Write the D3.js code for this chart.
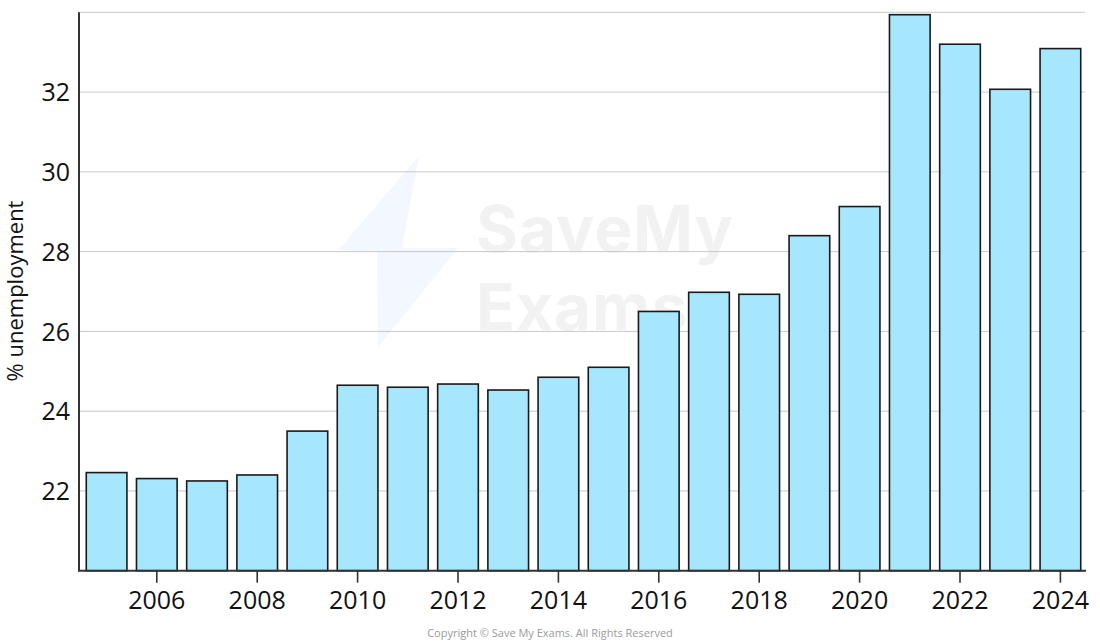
<!DOCTYPE html>
<html>
<head>
<meta charset="utf-8">
<script src="https://cdn.jsdelivr.net/npm/d3@7"></script>
<style>
  html, body { margin: 0; padding: 0; background: #fff; }
  svg { display: block; }
</style>
</head>
<body>
<svg id="chart" width="1100" height="642"></svg>
<script>
const years = [2005, 2006, 2007, 2008, 2009, 2010, 2011, 2012, 2013, 2014,
               2015, 2016, 2017, 2018, 2019, 2020, 2021, 2022, 2023, 2024];
const unemployment = [22.46, 22.31, 22.25, 22.40, 23.50, 24.65, 24.60, 24.68, 24.53, 24.85,
                      25.10, 26.50, 26.98, 26.93, 28.40, 29.13, 33.94, 33.20, 32.07, 33.09];
const yTicks = [22, 24, 26, 28, 30, 32];
const xTickYears = [2006, 2008, 2010, 2012, 2014, 2016, 2018, 2020, 2022, 2024];
const yTitle = "% unemployment";
const copyright = "Copyright \u00A9 Save My Exams. All Rights Reserved";

(function () {
const svg = d3.select("#chart");
const mLeft = 79, mRight = 1086, mTop = 12.3, mBottom = 570.7;
const font = "'Open Sans', sans-serif";

const x = d3.scaleBand().domain(years).range([81.5, 1085.5]).paddingInner(0.19).paddingOuter(0.095);
const y = d3.scaleLinear().domain([20, 34]).range([mBottom, mTop]);

// watermark
const wm = svg.append("g").attr("pointer-events", "none");
wm.append("path")
  .attr("d", "M419,156 L338,250 L377,252 L378,347 L458,248 L402,248 Z")
  .attr("fill", "#eef3ff").attr("opacity", 0.7);
wm.append("text").attr("x", 476).attr("y", 252).text("SaveMy")
  .attr("font-family", "Inter, 'Open Sans', sans-serif").attr("font-weight", 700)
  .attr("font-size", 64).attr("fill", "#f2f2f2").attr("letter-spacing", 1);
wm.append("text").attr("x", 476).attr("y", 330).text("Exams")
  .attr("font-family", "Inter, 'Open Sans', sans-serif").attr("font-weight", 700)
  .attr("font-size", 64).attr("fill", "#f2f2f2").attr("letter-spacing", 1);

// gridlines
svg.append("g").selectAll("line").data(yTicks.concat([34])).join("line")
  .attr("x1", mLeft).attr("x2", 1085)
  .attr("y1", d => y(d)).attr("y2", d => y(d))
  .attr("stroke", "#c8c8c8").attr("stroke-width", 1);

// bars
svg.append("g").selectAll("rect").data(years).join("rect")
  .attr("x", d => x(d))
  .attr("width", x.bandwidth())
  .attr("y", (d, i) => y(unemployment[i]))
  .attr("height", (d, i) => y(20) - y(unemployment[i]))
  .attr("fill", "#a6e7fe")
  .attr("stroke", "#1a1a1a")
  .attr("stroke-width", 1.6);

// y axis
const yAxis = d3.axisLeft(y).tickValues(yTicks).tickSize(0).tickPadding(9).tickFormat(d3.format("d"));
const gy = svg.append("g").attr("transform", `translate(${mLeft},0)`).call(yAxis);
gy.select(".domain").remove();
gy.selectAll("text").attr("font-family", font).attr("font-size", 25).attr("font-weight", 400)
  .attr("fill", "#111").attr("dy", "0.35em");
svg.append("line").attr("x1", mLeft).attr("x2", mLeft).attr("y1", mTop).attr("y2", mBottom + 0.5)
  .attr("stroke", "#333").attr("stroke-width", 2);

// x axis
const xAxis = d3.axisBottom(x).tickValues(xTickYears).tickSize(12).tickPadding(9).tickSizeOuter(0);
const gx = svg.append("g").attr("transform", `translate(0,${mBottom})`).call(xAxis);
gx.select(".domain").remove();
gx.selectAll(".tick line").attr("stroke", "#333").attr("stroke-width", 1.6);
gx.selectAll("text").attr("font-family", font).attr("font-size", 25).attr("font-weight", 400)
  .attr("fill", "#111");
svg.append("line").attr("x1", mLeft - 1).attr("x2", mRight).attr("y1", mBottom).attr("y2", mBottom)
  .attr("stroke", "#333").attr("stroke-width", 2);

// y title
svg.append("text")
  .attr("transform", `translate(23,291) rotate(-90)`)
  .attr("text-anchor", "middle")
  .attr("font-family", font).attr("font-size", 22)
  .attr("fill", "#111").text(yTitle);

// copyright
svg.append("text").attr("x", 550).attr("y", 637).attr("text-anchor", "middle")
  .attr("font-family", "'Open Sans', sans-serif").attr("font-size", 11)
  .attr("fill", "#9a9a9a").text(copyright);
})();
</script>
</body>
</html>
